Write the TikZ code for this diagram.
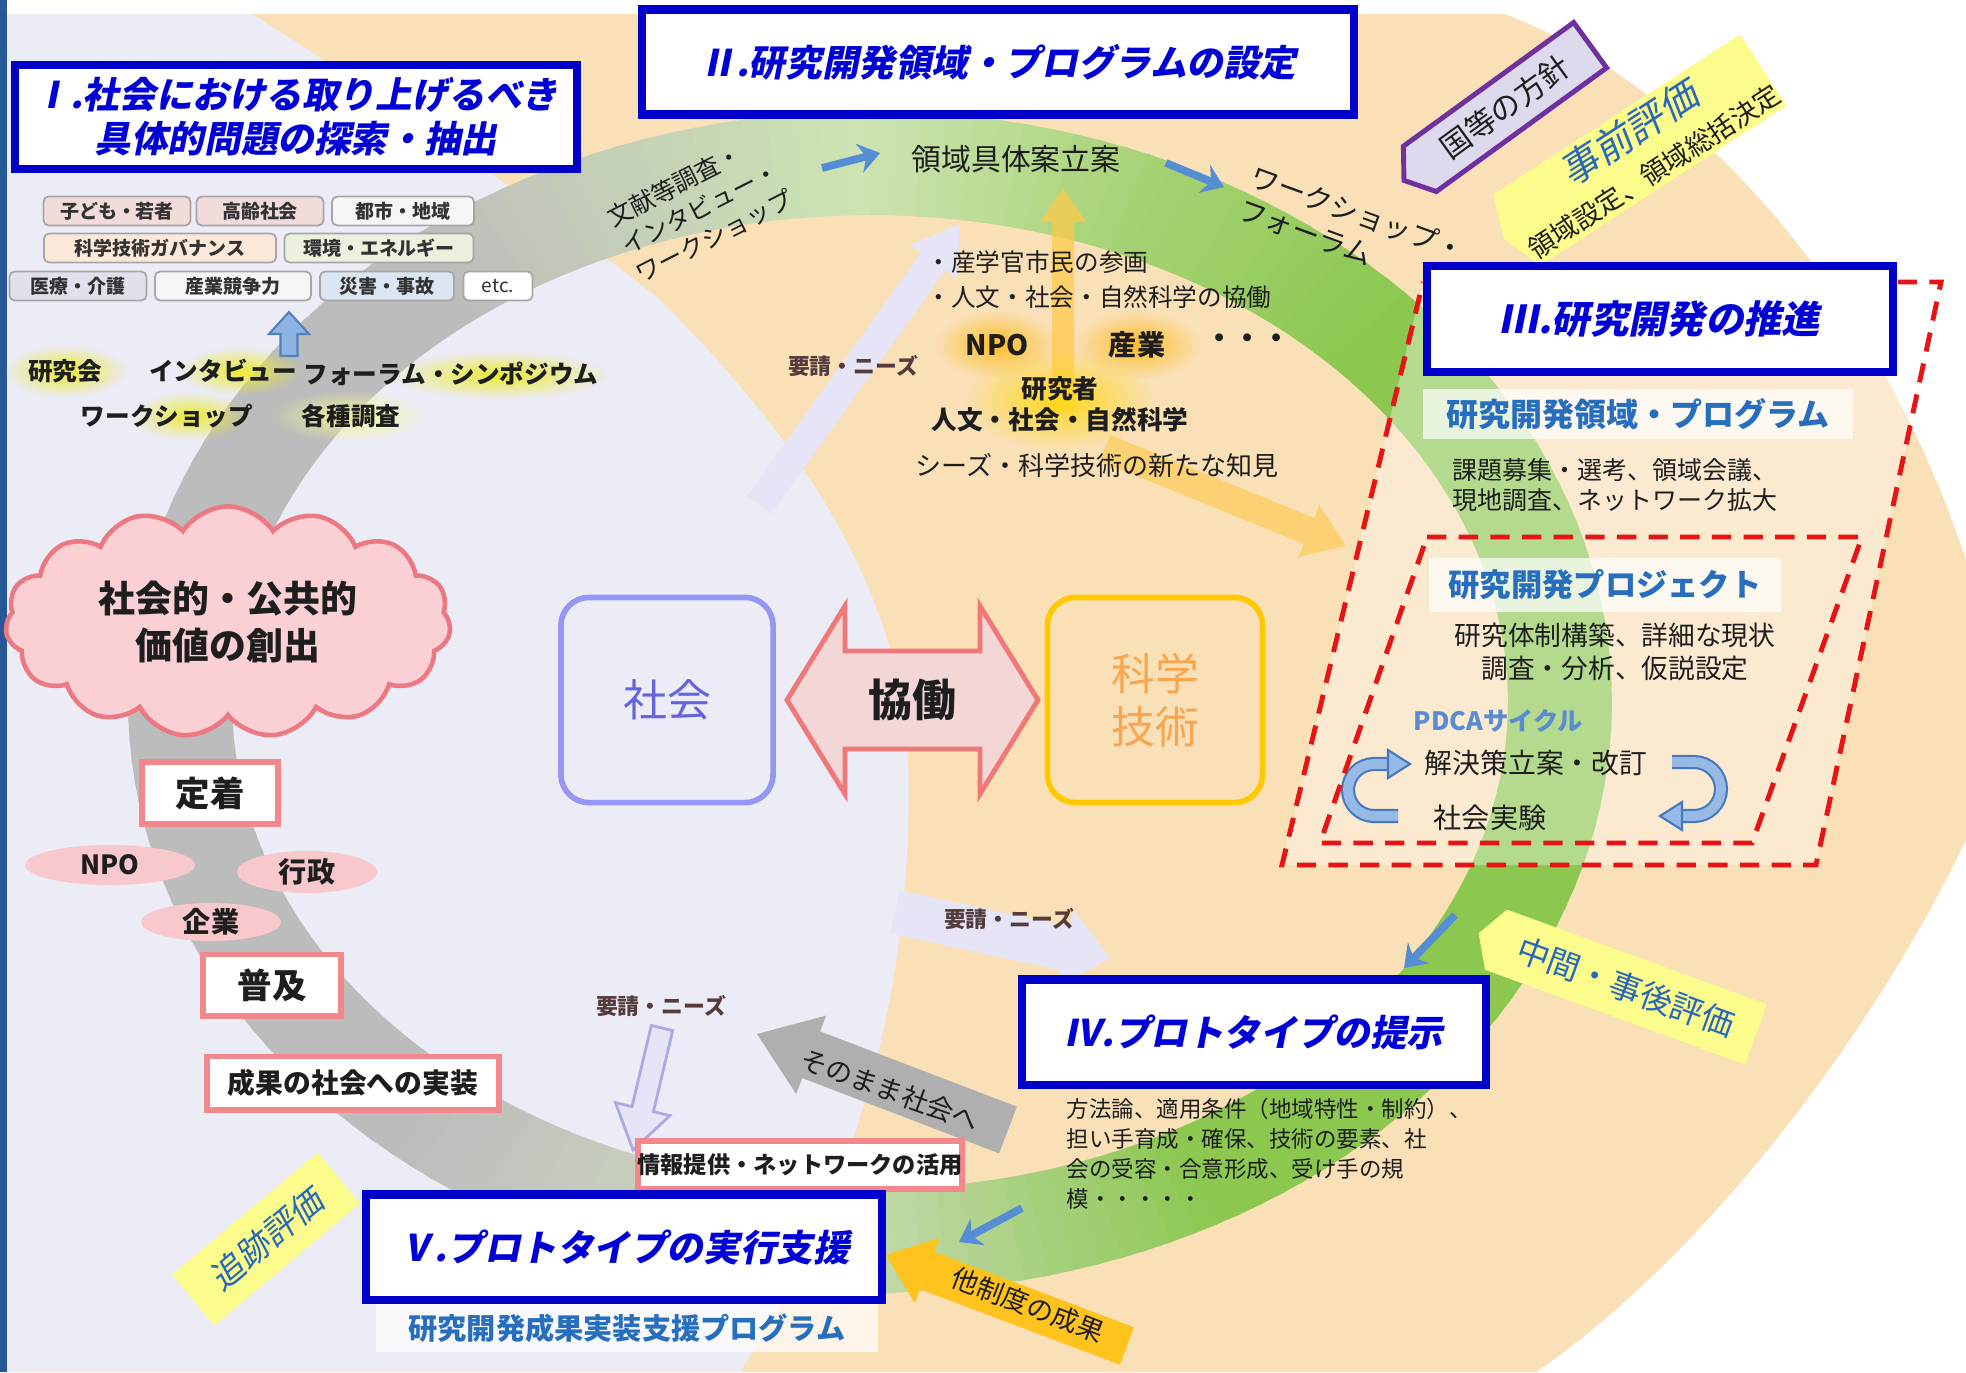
\documentclass[tikz,border=0pt]{standalone}
\usepackage{fontspec}
\setmainfont{Noto Sans CJK JP}
\newfontfamily\jpit{Noto Sans CJK JP}[FakeSlant=0.2]
\usetikzlibrary{shapes.symbols,shapes.arrows,shapes.geometric,arrows.meta,fadings}

\definecolor{peach}{RGB}{249,224,183}
\definecolor{lav}{RGB}{236,236,246}
\definecolor{lavarrow}{RGB}{229,229,247}
\definecolor{yoseiborder}{RGB}{170,170,230}
\definecolor{stripblue}{RGB}{38,88,150}
\definecolor{titleborder}{RGB}{0,0,200}
\definecolor{titletext}{RGB}{0,0,215}
\definecolor{cG}{RGB}{188,188,188}
\definecolor{cLGG}{RGB}{205,220,190}
\definecolor{cLG}{RGB}{205,228,178}
\definecolor{cMG}{RGB}{165,210,115}
\definecolor{cSG}{RGB}{140,200,80}
\definecolor{dashred}{RGB}{230,20,20}
\definecolor{progblue}{RGB}{40,110,190}
\definecolor{pinkborder}{RGB}{242,135,140}
\definecolor{pinkfill}{RGB}{248,200,205}
\definecolor{cloudfill}{RGB}{250,208,212}
\definecolor{cloudborder}{RGB}{236,120,130}
\definecolor{shakaiborder}{RGB}{150,150,245}
\definecolor{shakaitext}{RGB}{100,100,225}
\definecolor{kagakuborder}{RGB}{255,200,0}
\definecolor{kagakutext}{RGB}{248,165,80}
\definecolor{kyodofill}{RGB}{243,214,214}
\definecolor{kyodoborder}{RGB}{240,120,120}
\definecolor{arrowblue}{RGB}{85,142,213}
\definecolor{tagyellow}{RGB}{252,252,140}
\definecolor{evalblue}{RGB}{40,105,185}
\definecolor{kunipurple}{RGB}{112,48,160}
\definecolor{kunifill}{RGB}{222,218,238}
\definecolor{glowy}{RGB}{235,235,50}
\definecolor{glowo}{RGB}{255,190,40}
\definecolor{txt}{RGB}{30,30,30}
\definecolor{yoseitxt}{RGB}{85,60,60}
\definecolor{pdcafill}{RGB}{150,185,230}
\definecolor{pdcaborder}{RGB}{70,120,190}
\definecolor{pdcablue}{RGB}{90,140,210}
\definecolor{upfill}{RGB}{141,180,226}
\definecolor{upborder}{RGB}{79,129,189}
\definecolor{yarrow}{RGB}{255,200,70}
\definecolor{smgrey}{RGB}{175,175,175}
\definecolor{taseio}{RGB}{255,195,30}
\definecolor{tg1}{RGB}{242,220,219}
\definecolor{tg3}{RGB}{245,245,245}
\definecolor{tg4}{RGB}{253,233,217}
\definecolor{tg5}{RGB}{235,241,222}
\definecolor{tg6}{RGB}{225,225,235}
\definecolor{tg8}{RGB}{220,230,242}

\tikzfading[name=glowfade, inner color=transparent!0, outer color=transparent!100]

\newcommand\bandcol[1]{%
  \pgfmathsetmacro\bandT{#1}%
  \ifdim\bandT pt<95pt
    \pgfmathtruncatemacro\bandP{(\bandT-60)/35*100}\colorlet{bc}{cLGG!\bandP!cSG}%
  \else\ifdim\bandT pt<130pt
    \pgfmathtruncatemacro\bandP{(\bandT-95)/35*100}\colorlet{bc}{cG!\bandP!cLGG}%
  \else\ifdim\bandT pt<230pt
    \colorlet{bc}{cG}%
  \else\ifdim\bandT pt<268pt
    \pgfmathtruncatemacro\bandP{(\bandT-230)/38*100}\colorlet{bc}{cLG!\bandP!cG}%
  \else\ifdim\bandT pt<292pt
    \pgfmathtruncatemacro\bandP{(\bandT-268)/24*100}\colorlet{bc}{cMG!\bandP!cLG}%
  \else\ifdim\bandT pt<316pt
    \pgfmathtruncatemacro\bandP{(\bandT-292)/24*100}\colorlet{bc}{cSG!\bandP!cMG}%
  \else
    \colorlet{bc}{cSG}%
  \fi\fi\fi\fi\fi\fi}

% #1 style, #2 #3 tail, #4 #5 tip, #6 shaft width, #7 head width, #8 head length
\newcommand\widearrow[8]{%
  \pgfmathsetmacro\waA{atan2(-(#5)+(#3),(#4)-(#2))}%
  \pgfmathsetmacro\waL{veclen((#4)-(#2),(#5)-(#3))}%
  \pgfmathsetmacro\waB{\waL-(#8)}%
  \pgfmathsetmacro\waS{(#6)/2}%
  \pgfmathsetmacro\waH{(#7)/2}%
  \begin{scope}[shift={(#2,#3)},rotate=\waA]
    \path[#1] (0,-\waS) -- (\waB,-\waS) -- (\waB,-\waH) -- (\waL,0) -- (\waB,\waH) -- (\waB,\waS) -- (0,\waS) -- cycle;
  \end{scope}}

\begin{document}
\begin{tikzpicture}[x=0.01cm,y=-0.01cm,
  titlebox/.style={draw=titleborder, line width=2.3pt, fill=white, inner sep=0pt, align=center, text=titletext, font=\jpit\bfseries\fontsize{10.4}{12.6}\selectfont},
  tagbox/.style={draw=black!35, line width=0.5pt, rounded corners=1.5pt, inner sep=0pt, minimum height=0.29cm, font=\bfseries\fontsize{5.4}{6}\selectfont, text=black!80},
  glowlabel/.style={font=\bfseries\fontsize{7}{8}\selectfont, text=txt, inner sep=1pt},
  pinkbox/.style={draw=pinkborder, line width=1.7pt, fill=white, inner sep=0pt, font=\bfseries\fontsize{9.8}{11}\selectfont, text=txt},
  pinklabel/.style={font=\bfseries\fontsize{8}{9}\selectfont, text=txt, inner sep=0pt},
  yoseitext/.style={font=\bfseries\fontsize{6.2}{7}\selectfont, text=yoseitxt, inner sep=0pt},
  bluearr/.style={draw=arrowblue, line width=2.2pt, -{Stealth[length=6pt,width=8.5pt,inset=2pt]}},
  dashbox/.style={draw=dashred, line width=1.4pt, dash pattern=on 5.5pt off 3.5pt},
  pdcaline/.style={draw=pdcaborder, line width=0.6pt, double=pdcafill, double distance=2.8pt},
  whitelabel/.style={fill=white, fill opacity=0.7, text opacity=1, inner sep=0pt},
  plain/.style={text=txt, inner sep=0pt}]
\useasboundingbox (0,0) rectangle (1966,1372);
\fill[white] (0,0) rectangle (1966,1372);
% regions
\fill[peach] (0,14) -- (1505,14) .. controls (1700,90) and (1880,300) .. (1966,560) -- (1966,840) .. controls (1870,1040) and (1700,1260) .. (1536,1372) -- (0,1372) -- cycle;
\fill[lav] (0,14) -- (252,14) .. controls (420,120) and (560,220) .. (660,300) .. controls (760,400) and (900,560) .. (908,760) .. controls (915,1000) and (850,1200) .. (740,1372) -- (0,1372) -- cycle;
\fill[stripblue] (0,0) rectangle (7,1372);
% lavender request arrows
\widearrow{fill=lavarrow}{759}{505}{960}{224}{30}{58}{46}
\widearrow{fill=lavarrow}{895}{912}{1110}{958}{44}{80}{46}
% ring band
\foreach \t in {60,62,...,418}{
  \bandcol{\t}
  \fill[bc] ({870+638*cos(\t)},{702+487*sin(\t)}) -- ({870+742*cos(\t)},{702+591*sin(\t)}) -- ({870+742*cos(\t+2.5)},{702+591*sin(\t+2.5)}) -- ({870+638*cos(\t+2.5)},{702+487*sin(\t+2.5)}) -- cycle;
}
% III area overlay
\path[fill=white, fill opacity=0.35] (1423,282) -- (1941,282) -- (1816,865) -- (1282,865) -- cycle;

% top-left tags
\node[tagbox, fill=tg1, minimum width=1.47cm] (t1) at (117,211) {子ども・若者};
\node[tagbox, fill=tg1, minimum width=1.27cm] (t2) at (260,211) {高齢社会};
\node[tagbox, fill=tg3, minimum width=1.42cm] (t3) at (403,211) {都市・地域};
\node[tagbox, fill=tg4, minimum width=2.32cm] (t4) at (160,248) {科学技術ガバナンス};
\node[tagbox, fill=tg5, minimum width=1.89cm] (t5) at (379,248) {環境・エネルギー};
\node[tagbox, fill=tg6, minimum width=1.37cm] (t6) at (78,286) {医療・介護};
\node[tagbox, fill=tg3, minimum width=1.56cm] (t7) at (233,286) {産業競争力};
\node[tagbox, fill=tg8, minimum width=1.34cm] (t8) at (387,286) {災害・事故};
\node[tagbox, fill=white, minimum width=0.69cm, font=\fontsize{5.4}{6}\selectfont] (t9) at (498,286) {etc.};
\widearrow{fill=upfill, draw=upborder, line width=0.6pt}{289}{356}{289}{312}{17}{40}{22}

% glows + methods
\fill[glowy, path fading=glowfade] (65,371) ellipse (62 and 26);
\fill[glowy, path fading=glowfade] (240,371) ellipse (62 and 24);
\fill[glowy, path fading=glowfade] (500,375) ellipse (110 and 24);
\fill[glowy, path fading=glowfade] (190,416) ellipse (58 and 24);
\fill[glowy!50!white, path fading=glowfade] (350,416) ellipse (78 and 26);
\node[glowlabel] (m1) at (65,371) {研究会};
\node[glowlabel] (m2) at (223,371) {インタビュー};
\node[glowlabel] (m3) at (451,374) {フォーラム・シンポジウム};
\node[glowlabel] (m4) at (167,416) {ワークショップ};
\node[glowlabel] (m5) at (351,416) {各種調査};

% band texts
\node[plain, align=left, rotate=27, font=\fontsize{7}{9}\selectfont] (bunken) at (700,208) {文献等調査・\\インタビュー・\\ワークショップ};
\node[plain, font=\fontsize{8.5}{10}\selectfont] (ryoiki) at (1016,159) {領域具体案立案};
\node[plain, align=left, rotate=-20, font=\fontsize{8}{10}\selectfont] (wsforum) at (1352,230) {ワークショップ・\\フォーラム};
\coordinate (a1s) at (822,168); \coordinate (a1e) at (880,153);
\coordinate (a2s) at (1166,163); \coordinate (a2e) at (1224,187);
\draw[bluearr] (a1s) -- (a1e);
\draw[bluearr] (a2s) -- (a2e);

% tags top right
\node[signal, signal to=west, signal pointer angle=110, draw=kunipurple, line width=1.4pt, fill=kunifill, rotate=36, minimum width=2.3cm, minimum height=0.56cm, inner sep=0pt, font=\fontsize{8.6}{10}\selectfont, text=txt] (kuni) at (1505,107) {国等の方針};
\node[signal, signal to=west, signal pointer angle=140, fill=tagyellow, rotate=33, minimum width=2.95cm, minimum height=0.85cm, inner sep=0pt, align=center] (jizen) at (1640,150) {{\jpit\fontsize{11}{12}\selectfont\color{evalblue}事前評価}\\{\fontsize{7.6}{9}\selectfont\color{txt}領域設定、領域総括決定}};

% top center stakeholders
\widearrow{fill=yarrow, fill opacity=0.7}{1063}{412}{1063}{188}{22}{46}{34}
\widearrow{fill=yarrow, fill opacity=0.6}{1105}{448}{1346}{546}{28}{56}{40}
\fill[glowo, path fading=glowfade] (997,345) ellipse (62 and 34);
\fill[glowo, path fading=glowfade] (1137,345) ellipse (64 and 34);
\fill[glowo!60!yellow, path fading=glowfade] (1060,400) ellipse (95 and 50);
\node[plain, anchor=west, font=\fontsize{7}{8}\selectfont] (sangaku) at (926,262) {・産学官市民の参画};
\node[plain, anchor=west, font=\fontsize{7}{8}\selectfont] (jinbun) at (926,297) {・人文・社会・自然科学の協働};
\node[plain, font=\bfseries\fontsize{8}{9}\selectfont] (npo1) at (997,345) {NPO};
\node[plain, font=\bfseries\fontsize{8}{9}\selectfont] (sangyo) at (1137,345) {産業};
\node[plain, font=\bfseries\fontsize{8}{9}\selectfont] (dots) at (1248,341) {・・・};
\node[plain, font=\bfseries\fontsize{7.3}{8}\selectfont] (kenkyusha) at (1060,389) {研究者};
\node[plain, font=\bfseries\fontsize{7.3}{8}\selectfont] (jinbun2) at (1060,420) {人文・社会・自然科学};
\node[plain, font=\fontsize{7.4}{8}\selectfont] (seeds) at (1097,466) {シーズ・科学技術の新たな知見};
\node[yoseitext] (yosei1) at (853,366) {要請・ニーズ};

% center
\node[draw=shakaiborder, line width=1.6pt, rounded corners=0.28cm, fill=lav, minimum width=2.12cm, minimum height=2.05cm, font=\fontsize{12.5}{14}\selectfont, text=shakaitext] (shakai) at (667,700) {社会};
\node[draw=kagakuborder, line width=1.6pt, rounded corners=0.28cm, fill=peach, minimum width=2.15cm, minimum height=2.05cm, align=center, font=\fontsize{12.5}{15}\selectfont, text=kagakutext] (kagaku) at (1155,700) {科学\\技術};
\path[fill=kyodofill, draw=kyodoborder, line width=1.4pt] (787,700) -- (845,606) -- (845,651) -- (980,651) -- (980,606) -- (1038,700) -- (980,794) -- (980,749) -- (845,749) -- (845,794) -- cycle;
\node[plain, font=\bfseries\fontsize{12.5}{14}\selectfont] (kyodo) at (912,700) {協働};

% left side
\node[cloud, cloud puffs=15, cloud puff arc=115, aspect=2.1, draw=cloudborder, line width=1.3pt, fill=cloudfill, minimum width=4.45cm, minimum height=2.2cm, align=center, font=\bfseries\fontsize{10.5}{13.5}\selectfont, text=txt] (cloud) at (228,622) {社会的・公共的\\価値の創出};
\node[pinkbox, minimum width=1.36cm, minimum height=0.62cm] (teichaku) at (210,793) {定着};
\fill[pinkfill] (110,865) ellipse (85 and 20);
\fill[pinkfill] (307,872) ellipse (70 and 21);
\fill[pinkfill] (211,922) ellipse (70 and 19);
\node[pinklabel, font=\bfseries\fontsize{7.5}{8}\selectfont] (npo2) at (110,865) {NPO};
\node[pinklabel] (gyosei) at (307,872) {行政};
\node[pinklabel] (kigyo) at (211,922) {企業};
\node[pinkbox, minimum width=1.38cm, minimum height=0.61cm] (fukyu) at (272,985) {普及};
\node[pinkbox, minimum width=2.92cm, minimum height=0.53cm, font=\bfseries\fontsize{7.9}{9}\selectfont] (jisso) at (353,1083) {成果の社会への実装};

% bottom arrows
\widearrow{fill=lavarrow, draw=yoseiborder, line width=0.8pt}{662}{1028}{633}{1150}{22}{56}{42}
\node[yoseitext] (yosei3) at (661,1006) {要請・ニーズ};
\node[yoseitext] (yosei2) at (1009,919) {要請・ニーズ};
\widearrow{fill=smgrey}{1008}{1130}{757}{1034}{50}{84}{58}
\node[plain, rotate=-20, font=\fontsize{7.6}{9}\selectfont] (sonomama) at (890,1090) {そのまま社会へ};
\widearrow{fill=taseio}{1127}{1346}{886}{1255}{40}{70}{44}
\node[plain, rotate=-21, font=\fontsize{7.6}{9}\selectfont] (tasei) at (1028,1305) {他制度の成果};
\node[pinkbox, minimum width=2.85cm, minimum height=0.48cm, font=\bfseries\fontsize{6.6}{8}\selectfont] (joho) at (800,1165) {情報提供・ネットワークの活用};
\coordinate (a3s) at (1455,915); \coordinate (a3e) at (1404,968);
\coordinate (a4s) at (1022,1208); \coordinate (a4e) at (959,1242);
\draw[bluearr] (a3s) -- (a3e);
\draw[bluearr] (a4s) -- (a4e);
\node[plain, anchor=north west, align=left, font=\fontsize{6.4}{8.5}\selectfont] (hoho) at (1066,1098) {方法論、適用条件（地域特性・制約）、\\担い手育成・確保、技術の要素、社\\会の受容・合意形成、受け手の規\\模・・・・・};
\node[signal, signal to=west, signal pointer angle=120, fill=tagyellow, rotate=-20, minimum width=2.95cm, minimum height=0.64cm, inner sep=0pt, font=\fontsize{9.3}{10}\selectfont, text=evalblue] (chukan) at (1626,987) {中間・事後評価};
\node[fill=tagyellow, rotate=40, minimum width=1.9cm, minimum height=0.66cm, inner sep=0pt, font=\jpit\fontsize{9.6}{10}\selectfont, text=evalblue] (tsuiseki) at (266,1239) {追跡評価};
\node[whitelabel, minimum width=5.02cm, minimum height=0.48cm, font=\bfseries\fontsize{8.3}{9}\selectfont, text=progblue] (jissoprog) at (627,1328) {研究開発成果実装支援プログラム};

% III contents
\node[whitelabel, minimum width=4.3cm, minimum height=0.5cm, font=\bfseries\fontsize{9.1}{10}\selectfont, text=progblue] (prog) at (1638,414) {研究開発領域・プログラム};
\node[plain, align=left, font=\fontsize{7.1}{8.6}\selectfont] (kadai) at (1615,485) {課題募集・選考、領域会議、\\現地調査、ネットワーク拡大};
\node[whitelabel, minimum width=3.51cm, minimum height=0.54cm, font=\bfseries\fontsize{8.9}{10}\selectfont, text=progblue] (proj) at (1605,585) {研究開発プロジェクト};
\node[plain, align=center, font=\fontsize{7.6}{9.3}\selectfont] (taisei) at (1615,652) {研究体制構築、詳細な現状\\調査・分析、仮説設定};
\node[plain, anchor=west, font=\bfseries\fontsize{7.2}{8}\selectfont, text=pdcablue] (pdca) at (1413,721) {PDCAサイクル};
\node[plain, font=\fontsize{7.9}{9}\selectfont] (kaiketsu) at (1536,763) {解決策立案・改訂};
\node[plain, font=\fontsize{8}{9}\selectfont] (jikken) at (1490,818) {社会実験};
\draw[pdcaline] (1398,816) -- (1374,816) arc[start angle=90, end angle=270, radius=26] -- (1388,764);
\path[fill=pdcafill, draw=pdcaborder, line width=0.6pt] (1388,750) -- (1410,764) -- (1388,778) -- cycle;
\draw[pdcaline] (1672,762) -- (1694,762) arc[start angle=-90, end angle=90, radius=27] -- (1682,816);
\path[fill=pdcafill, draw=pdcaborder, line width=0.6pt] (1682,802) -- (1660,816) -- (1682,830) -- cycle;
\draw[dashbox] (1423,282) -- (1941,282) -- (1816,865) -- (1282,865) -- cycle;
\draw[dashbox] (1427,537) -- (1862,537) -- (1752,843) -- (1320,843) -- cycle;

% title boxes
\node[titlebox, minimum width=5.62cm, minimum height=1.04cm] (b1) at (296,117) {Ⅰ.社会における取り上げるべき\\具体的問題の探索・抽出};
\node[titlebox, minimum width=7.11cm, minimum height=1.05cm] (b2) at (998,62) {Ⅱ.研究開発領域・プログラムの設定};
\node[titlebox, minimum width=4.66cm, minimum height=1.06cm, font=\jpit\bfseries\fontsize{10.9}{13}\selectfont] (b3) at (1660,319) {Ⅲ.研究開発の推進};
\node[titlebox, minimum width=4.64cm, minimum height=1.05cm] (b4) at (1254,1032) {Ⅳ.プロトタイプの提示};
\node[titlebox, minimum width=5.16cm, minimum height=1.05cm] (b5) at (624,1247) {Ⅴ.プロトタイプの実行支援};
\end{tikzpicture}
\end{document}
